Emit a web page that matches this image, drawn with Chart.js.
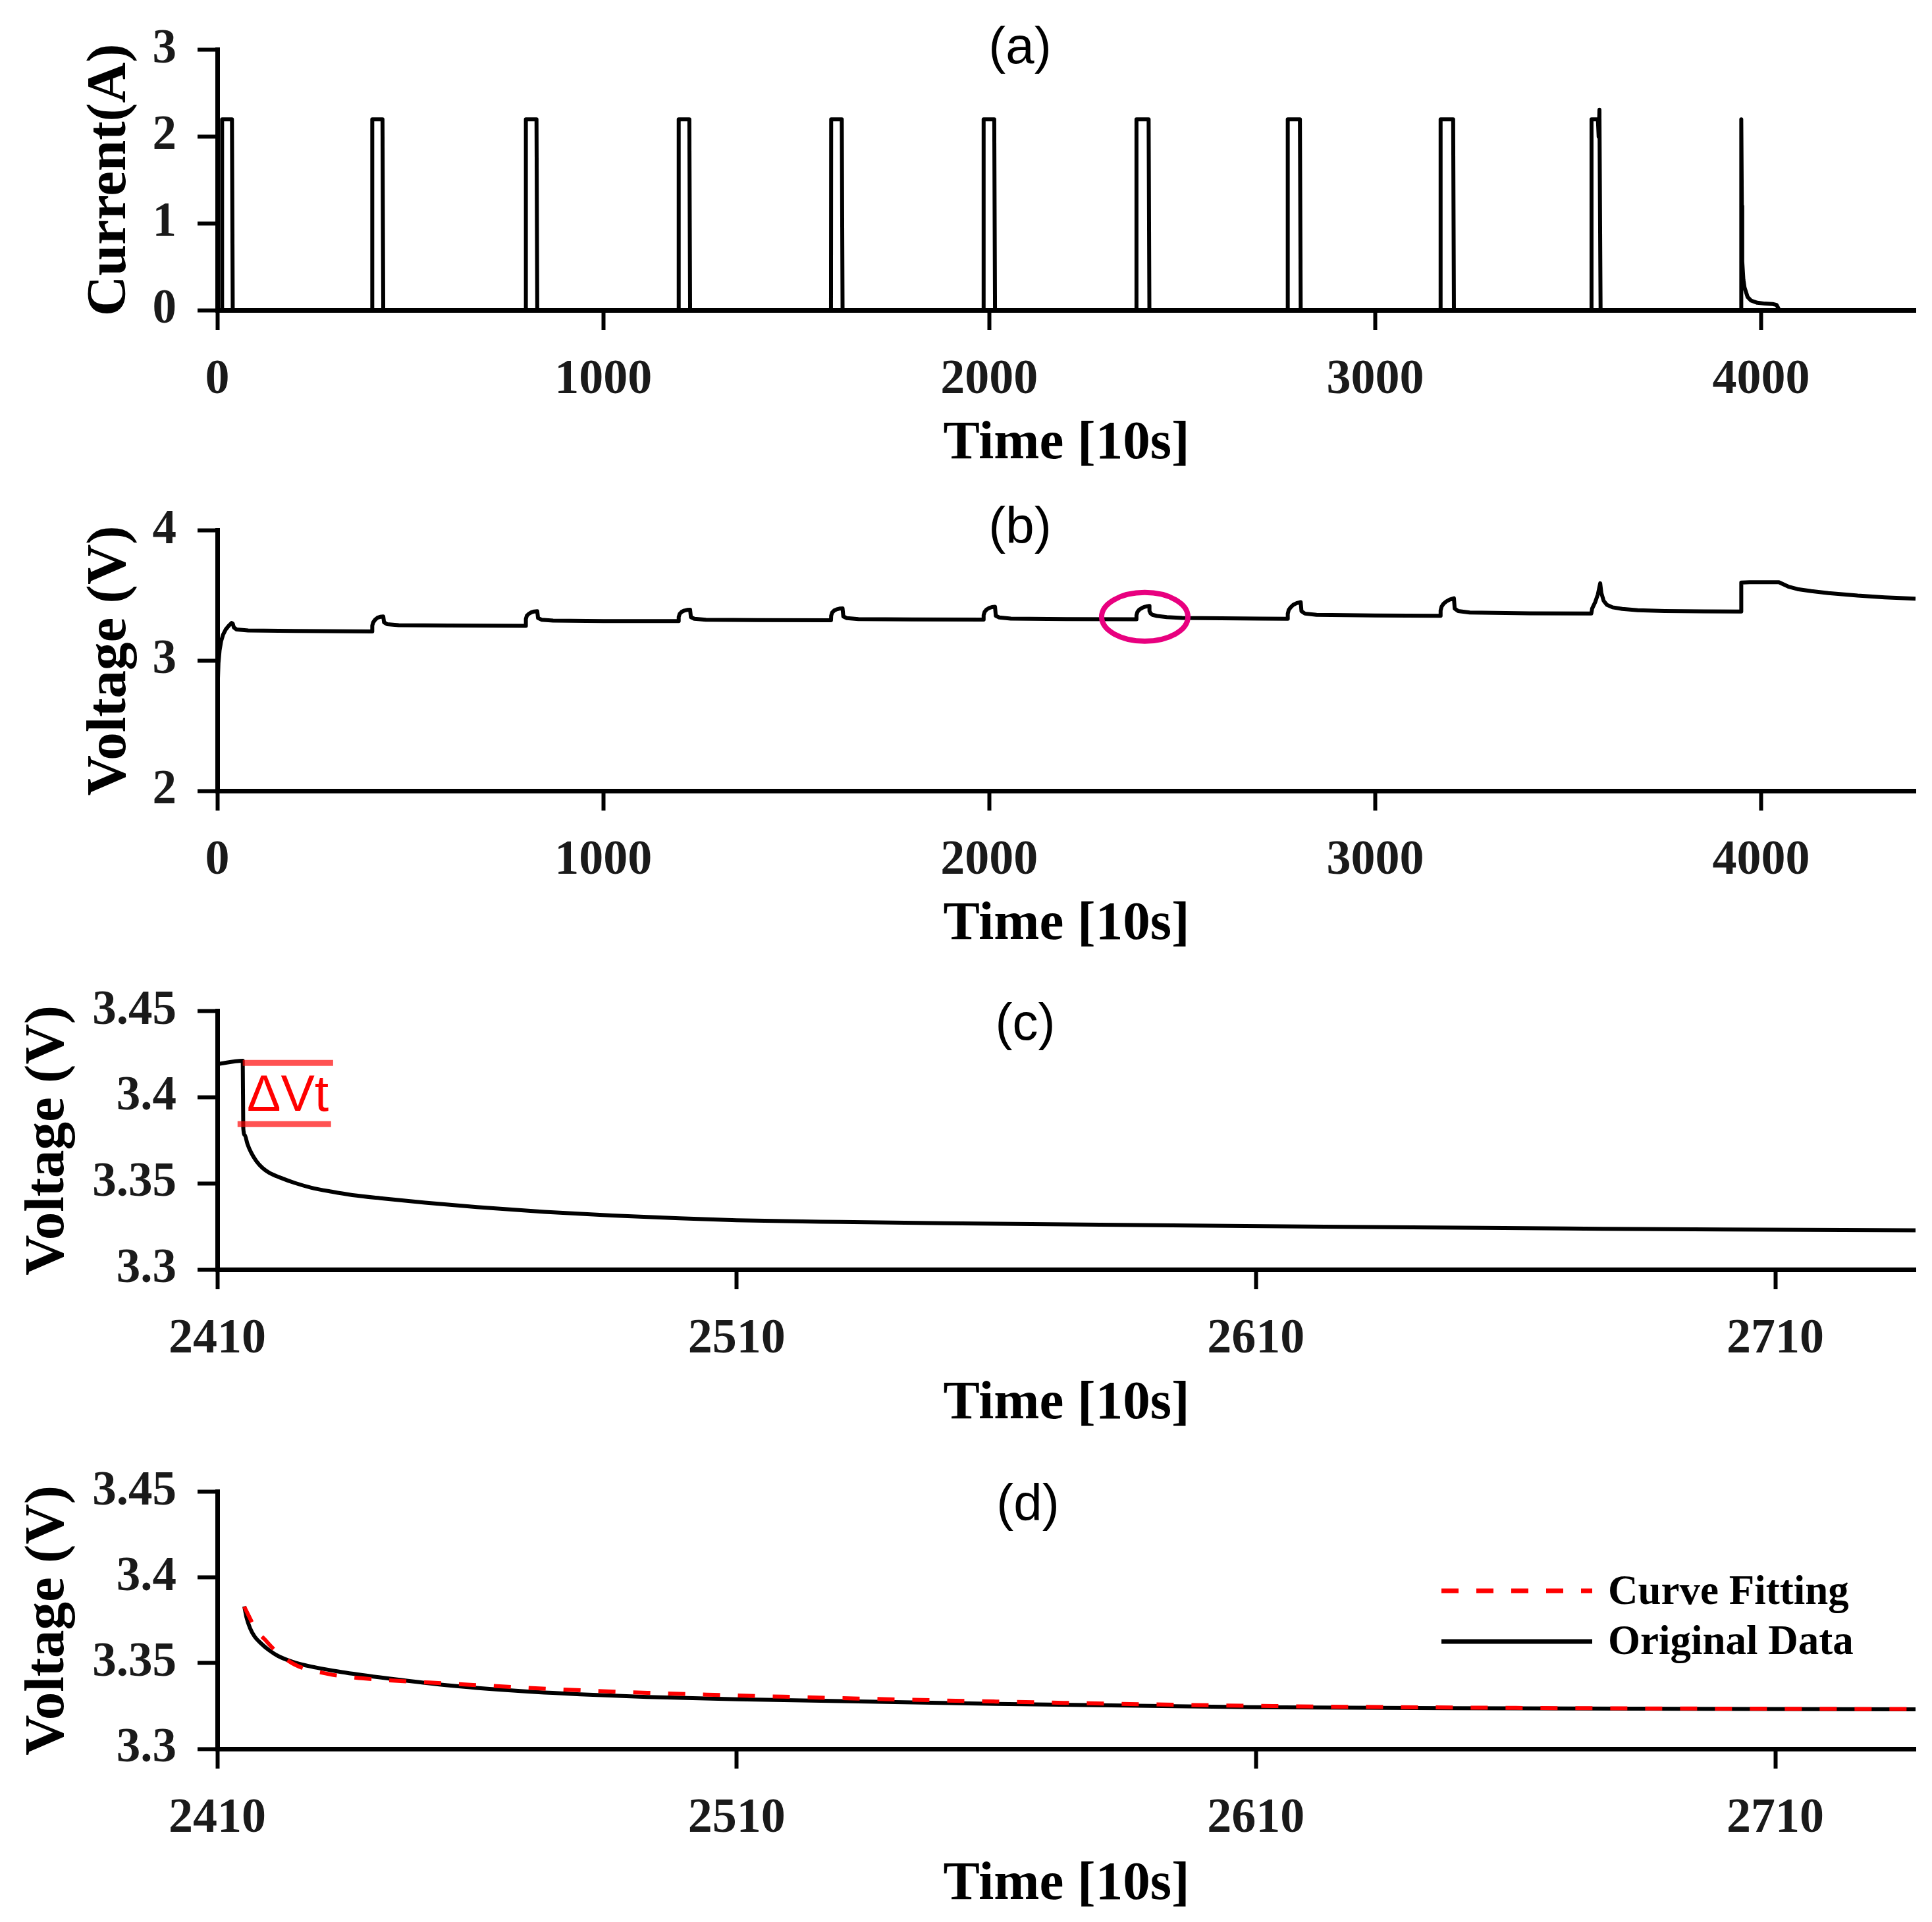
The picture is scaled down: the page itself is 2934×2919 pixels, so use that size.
<!DOCTYPE html>
<html>
<head>
<meta charset="utf-8">
<script src="https://cdn.jsdelivr.net/npm/chart.js@4.4.1/dist/chart.umd.min.js"></script>
<style>
html,body{margin:0;padding:0;background:#fff;}
#wrap{position:relative;width:2934px;height:2919px;background:#fff;overflow:hidden;}
canvas{position:absolute;left:0;}
</style>
</head>
<body>
<div id="wrap">
<canvas id="ca" width="2934" height="730" style="top:0px"></canvas>
<canvas id="cb" width="2934" height="730" style="top:730px"></canvas>
<canvas id="cc" width="2934" height="730" style="top:1460px"></canvas>
<canvas id="cd" width="2934" height="729" style="top:2190px"></canvas>
</div>
<script>
// ---------------- DATA ----------------
// (a) current pulses
const currentTime = [0,
  12, 12.5, 38, 40,
  401, 401.5, 428, 430,
  799, 799.5, 827, 829,
  1195, 1195.5, 1223, 1225,
  1590, 1590.5, 1618, 1620,
  1985, 1985.5, 2013, 2015,
  2381, 2381.5, 2413, 2415,
  2773, 2773.5, 2805, 2807,
  3169, 3169.5, 3202, 3204,
  3560, 3560.5, 3577, 3579, 3581, 3584,
  3948, 3948.5, 3950, 3951, 3954, 3957, 3965, 3974, 3990, 4010, 4030, 4040, 4047, 4400];
const currentAmp = [0,
  0, 2.2, 2.2, 0,
  0, 2.2, 2.2, 0,
  0, 2.2, 2.2, 0,
  0, 2.2, 2.2, 0,
  0, 2.2, 2.2, 0,
  0, 2.2, 2.2, 0,
  0, 2.2, 2.2, 0,
  0, 2.2, 2.2, 0,
  0, 2.2, 2.2, 0,
  0, 2.2, 2.2, 2.0, 2.31, 0,
  0, 2.2, 1.2, 0.565, 0.35, 0.26, 0.15, 0.11, 0.085, 0.075, 0.07, 0.06, 0, 0];

// (b) terminal voltage over the whole test
const voltageTime = [0, 1, 3, 6, 10, 15, 22, 30, 37, 40, 43, 50, 80, 200, 401,
  401.5, 404, 409, 415, 422, 430, 432, 440, 470, 600, 799,
  799.5, 802, 807, 814, 821, 829, 831, 840, 870, 1000, 1195,
  1195.5, 1198, 1203, 1210, 1217, 1225, 1227, 1236, 1266, 1400, 1590,
  1590.5, 1593, 1598, 1605, 1612, 1620, 1622, 1631, 1661, 1800, 1985,
  1985.5, 1988, 1993, 2000, 2007, 2015, 2017, 2026, 2056, 2200, 2381,
  2381.5, 2384, 2389, 2396, 2403, 2410, 2415, 2415.2, 2418, 2423, 2435, 2460, 2500, 2600, 2700, 2773,
  2773.5, 2776, 2781, 2788, 2797, 2807, 2809, 2818, 2848, 3000, 3169,
  3169.5, 3172, 3177, 3184, 3193, 3204, 3206, 3215, 3245, 3400, 3560,
  3562, 3570, 3577, 3583, 3586, 3592, 3600, 3615, 3640, 3680, 3750, 3850, 3948,
  3948.5, 3970, 4046, 4070, 4094, 4130, 4174, 4250, 4320, 4400];
const voltageValue = [2.50, 2.80, 2.98, 3.08, 3.15, 3.20, 3.24, 3.27, 3.29, 3.285, 3.255, 3.24, 3.232, 3.228, 3.225,
  3.27, 3.295, 3.315, 3.33, 3.337, 3.34, 3.295, 3.28, 3.273, 3.27, 3.268,
  3.32, 3.345, 3.36, 3.372, 3.378, 3.38, 3.328, 3.315, 3.308, 3.305, 3.304,
  3.335, 3.36, 3.375, 3.385, 3.39, 3.392, 3.335, 3.322, 3.315, 3.312, 3.311,
  3.345, 3.37, 3.385, 3.395, 3.40, 3.402, 3.34, 3.327, 3.32, 3.317, 3.316,
  3.35, 3.375, 3.393, 3.405, 3.412, 3.415, 3.345, 3.332, 3.323, 3.319, 3.318,
  3.35, 3.375, 3.393, 3.405, 3.414, 3.419, 3.421, 3.382, 3.363, 3.3525, 3.3438, 3.3345, 3.329, 3.3255, 3.323, 3.322,
  3.36, 3.39, 3.41, 3.43, 3.443, 3.45, 3.38, 3.362, 3.352, 3.347, 3.345,
  3.385, 3.415, 3.437, 3.455, 3.47, 3.48, 3.40, 3.382, 3.37, 3.364, 3.362,
  3.40, 3.45, 3.51, 3.595, 3.52, 3.46, 3.43, 3.41, 3.398, 3.388, 3.382, 3.379, 3.378,
  3.60, 3.603, 3.603, 3.57, 3.55, 3.535, 3.52, 3.50, 3.487, 3.476];

// (c) relaxation after the 7th pulse
const relaxTime = [2410, 2414.9, 2415, 2415.3, 2415.8, 2416.5, 2417.5, 2418.7, 2420, 2422, 2425, 2428, 2432,
  2436, 2442, 2450, 2460, 2473, 2486, 2499, 2510, 2530, 2550, 2580, 2608, 2640, 2670, 2700, 2737];
const relaxVoltage = [3.4193, 3.4212, 3.3822, 3.378, 3.373, 3.368, 3.363, 3.359, 3.3562, 3.3535, 3.3502, 3.3476, 3.3452,
  3.3432, 3.3412, 3.3388, 3.3362, 3.3335, 3.3314, 3.3297, 3.3286, 3.3276, 3.3269, 3.326, 3.3252, 3.3245, 3.3238, 3.3232, 3.3228];
// ΔVt marker levels
const deltaTopTime = [2414.9, 2432.3];
const deltaTopVoltage = [3.4200, 3.4200];
const deltaBottomTime = [2413.9, 2431.9];
const deltaBottomVoltage = [3.3844, 3.3844];

// (d) original data vs curve fitting
const originalTime = [2415.2, 2415.6, 2416.3, 2417.2, 2418.4, 2420, 2421.7, 2424.5, 2428.1, 2434, 2441.1, 2454, 2467, 2479.9, 2492.8, 2510.2, 2560, 2609, 2660, 2737];
const originalVoltage = [3.3832, 3.377, 3.3705, 3.3655, 3.3616, 3.3575, 3.3542, 3.3508, 3.348, 3.3448, 3.3418, 3.3372, 3.334, 3.3318, 3.3303, 3.3289, 3.3262, 3.3243, 3.3236, 3.3231];
const fitTime = [2415.2, 2416, 2417, 2418, 2419.1, 2421, 2424.9, 2431.4, 2437.8, 2450.8, 2463.7, 2476.7, 2492.8, 2505.7, 2560, 2610, 2660, 2737];
const fitVoltage = [3.383, 3.378, 3.372, 3.3675, 3.364, 3.3579, 3.3492, 3.3437, 3.3412, 3.3387, 3.3366, 3.3346, 3.3327, 3.3315, 3.3276, 3.3251, 3.3239, 3.3232];

// ticks
const xTicksLong = [0, 1000, 2000, 3000, 4000];
const xTickLabelsLong = ['0', '1000', '2000', '3000', '4000'];
const xTicksZoom = [2410, 2510, 2610, 2710];
const xTickLabelsZoom = ['2410', '2510', '2610', '2710'];
const yTicksCurrent = [0, 1, 2, 3];
const yTickLabelsCurrent = ['0', '1', '2', '3'];
const yTicksVoltage = [2, 3, 4];
const yTickLabelsVoltage = ['2', '3', '4'];
const yTicksZoom = [3.3, 3.35, 3.4, 3.45];
const yTickLabelsZoom = ['3.3', '3.35', '3.4', '3.45'];

// annotations
const highlightCenter = [2403, 3.337];
const highlightRadius = [111.8, 0.187];
const deltaLabel = 'ΔVt';
const deltaLabelAt = [2415.7, 3.3921];

// ---------------- STYLE / HELPERS ----------------
const SERIF = "'Liberation Serif', 'Times New Roman', serif";
const SANS = "'Liberation Sans', Arial, sans-serif";
const xy = (ts, vs) => ts.map((t, i) => ({x: t, y: vs[i]}));

function xScale(min, max, ticks, labels, axisH, titlePadBottom) {
  return {
    type: 'linear', min: min, max: max, position: 'bottom',
    afterBuildTicks: s => { s.ticks = ticks.map(v => ({value: v})); },
    afterFit: s => { s.height = axisH; },
    border: {display: true, color: '#000', width: 7},
    grid: {display: true, drawOnChartArea: false, drawTicks: true, tickLength: 30, tickWidth: 6, tickColor: '#000'},
    ticks: {autoSkip: false, maxRotation: 0, minRotation: 0, padding: 32, color: '#1a1a1a',
      font: {family: SERIF, size: 74, weight: 'bold'}, callback: (v, i) => labels[i]},
    title: {display: true, text: 'Time [10s]', color: '#000',
      font: {family: SERIF, size: 83, weight: 'bold'}, padding: {top: 0, bottom: titlePadBottom}}
  };
}
function yScale(min, max, ticks, labels, titleText, titlePadTop) {
  return {
    type: 'linear', min: min, max: max, position: 'left',
    afterBuildTicks: s => { s.ticks = ticks.map(v => ({value: v})); },
    afterFit: s => { s.width = 330; },
    border: {display: true, color: '#000', width: 7},
    grid: {display: true, drawOnChartArea: false, drawTicks: true, tickLength: 30, tickWidth: 6, tickColor: '#000'},
    ticks: {autoSkip: false, padding: 32, color: '#1a1a1a',
      font: {family: SERIF, size: 73, weight: 'bold'}, callback: (v, i) => labels[i]},
    title: {display: true, text: titleText, color: '#000',
      font: {family: SERIF, size: 85, weight: 'bold'}, padding: {top: titlePadTop, bottom: 0}}
  };
}
function panelTitle(text, dx, y) {
  return {
    id: 'panelTitle',
    afterDraw(chart) {
      const ctx = chart.ctx;
      ctx.save();
      ctx.font = '78px ' + SANS;
      ctx.fillStyle = '#000';
      ctx.textAlign = 'center';
      ctx.textBaseline = 'middle';
      ctx.fillText(text, chart.chartArea.left + dx, y);
      ctx.restore();
    }
  };
}
function baseOptions(padTop) {
  return {
    responsive: false, animation: false, devicePixelRatio: 1,
    layout: {padding: {top: padTop, right: 25, bottom: 0, left: 0}},
    plugins: {legend: {display: false}, tooltip: {enabled: false}},
    elements: {point: {radius: 0}, line: {borderJoinStyle: 'round', borderCapStyle: 'butt'}}
  };
}
function lineSet(label, data, color, width, extra) {
  return Object.assign({label: label, data: data, borderColor: color, backgroundColor: color,
    borderWidth: width, pointRadius: 0, fill: false, tension: 0}, extra || {});
}

// ---------------- (a) ----------------
(function () {
  const opt = baseOptions(67);
  opt.scales = {
    x: xScale(0, 4400, xTicksLong, xTickLabelsLong, 259, 6),
    y: yScale(0, 3, yTicksCurrent, yTickLabelsCurrent, 'Current(A)', 117)
  };
  new Chart(document.getElementById('ca'), {
    type: 'line',
    data: {datasets: [lineSet('Current', xy(currentTime, currentAmp), '#000', 6)]},
    options: opt,
    plugins: [panelTitle('(a)', 1219, 74)]
  });
})();

// ---------------- (b) ----------------
(function () {
  const opt = baseOptions(65);
  opt.scales = {
    x: xScale(0, 4400, xTicksLong, xTickLabelsLong, 259, 6),
    y: yScale(2, 4, yTicksVoltage, yTickLabelsVoltage, 'Voltage (V)', 117)
  };
  const highlight = {
    id: 'highlight',
    afterDatasetsDraw(chart) {
      const xs = chart.scales.x, ys = chart.scales.y, ctx = chart.ctx;
      const cx = xs.getPixelForValue(highlightCenter[0]);
      const cy = ys.getPixelForValue(highlightCenter[1]);
      const rx = Math.abs(xs.getPixelForValue(highlightCenter[0] + highlightRadius[0]) - cx);
      const ry = Math.abs(ys.getPixelForValue(highlightCenter[1] + highlightRadius[1]) - cy);
      ctx.save();
      ctx.beginPath();
      ctx.ellipse(cx, cy, rx, ry, 0, 0, Math.PI * 2);
      ctx.strokeStyle = '#E8007F';
      ctx.lineWidth = 8;
      ctx.stroke();
      ctx.restore();
    }
  };
  new Chart(document.getElementById('cb'), {
    type: 'line',
    data: {datasets: [lineSet('Voltage', xy(voltageTime, voltageValue), '#000', 6)]},
    options: opt,
    plugins: [panelTitle('(b)', 1219, 73), highlight]
  });
})();

// ---------------- (c) ----------------
(function () {
  const opt = baseOptions(64);
  opt.scales = {
    x: xScale(2410, 2737, xTicksZoom, xTickLabelsZoom, 262, 8),
    y: yScale(3.3, 3.45, yTicksZoom, yTickLabelsZoom, 'Voltage (V)', 23)
  };
  const deltaText = {
    id: 'deltaText',
    afterDatasetsDraw(chart) {
      const ctx = chart.ctx;
      ctx.save();
      ctx.font = '77px ' + SANS;
      ctx.fillStyle = '#FF0000';
      ctx.textAlign = 'left';
      ctx.textBaseline = 'alphabetic';
      ctx.fillText(deltaLabel, chart.scales.x.getPixelForValue(deltaLabelAt[0]), chart.scales.y.getPixelForValue(deltaLabelAt[1]));
      ctx.restore();
    }
  };
  const red = 'rgba(255,0,0,0.68)';
  new Chart(document.getElementById('cc'), {
    type: 'line',
    data: {datasets: [
      lineSet('ΔVt top', xy(deltaTopTime, deltaTopVoltage), red, 9, {order: 0}),
      lineSet('ΔVt bottom', xy(deltaBottomTime, deltaBottomVoltage), red, 9, {order: 0}),
      lineSet('Voltage', xy(relaxTime, relaxVoltage), '#000', 6, {order: 1, cubicInterpolationMode: 'monotone'})
    ]},
    options: opt,
    plugins: [panelTitle('(c)', 1227, 97), deltaText]
  });
})();

// ---------------- (d) ----------------
(function () {
  const opt = baseOptions(62);
  opt.scales = {
    x: xScale(2410, 2737, xTicksZoom, xTickLabelsZoom, 263, 7),
    y: yScale(3.3, 3.45, yTicksZoom, yTickLabelsZoom, 'Voltage (V)', 23)
  };
  const legendBox = {
    id: 'legendBox',
    afterDraw(chart) {
      const ctx = chart.ctx;
      const rows = [{ds: chart.data.datasets[0], y: 226, ty: 230}, {ds: chart.data.datasets[1], y: 303, ty: 306}];
      ctx.save();
      rows.forEach(r => {
        ctx.beginPath();
        ctx.setLineDash(r.ds.borderDash || []);
        ctx.strokeStyle = r.ds.borderColor;
        ctx.lineWidth = 7;
        ctx.moveTo(2189, r.y);
        ctx.lineTo(2418, r.y);
        ctx.stroke();
        ctx.setLineDash([]);
        ctx.font = 'bold 63px ' + SERIF;
        ctx.fillStyle = '#000';
        ctx.textAlign = 'left';
        ctx.textBaseline = 'middle';
        ctx.fillText(r.ds.label, 2442, r.ty);
      });
      ctx.restore();
    }
  };
  new Chart(document.getElementById('cd'), {
    type: 'line',
    data: {datasets: [
      lineSet('Curve Fitting', xy(fitTime, fitVoltage), '#FF0000', 6, {order: 0, borderDash: [26, 27], cubicInterpolationMode: 'monotone'}),
      lineSet('Original Data', xy(originalTime, originalVoltage), '#000', 6, {order: 1, cubicInterpolationMode: 'monotone'})
    ]},
    options: opt,
    plugins: [panelTitle('(d)', 1231, 97), legendBox]
  });
})();
</script>
</body>
</html>
